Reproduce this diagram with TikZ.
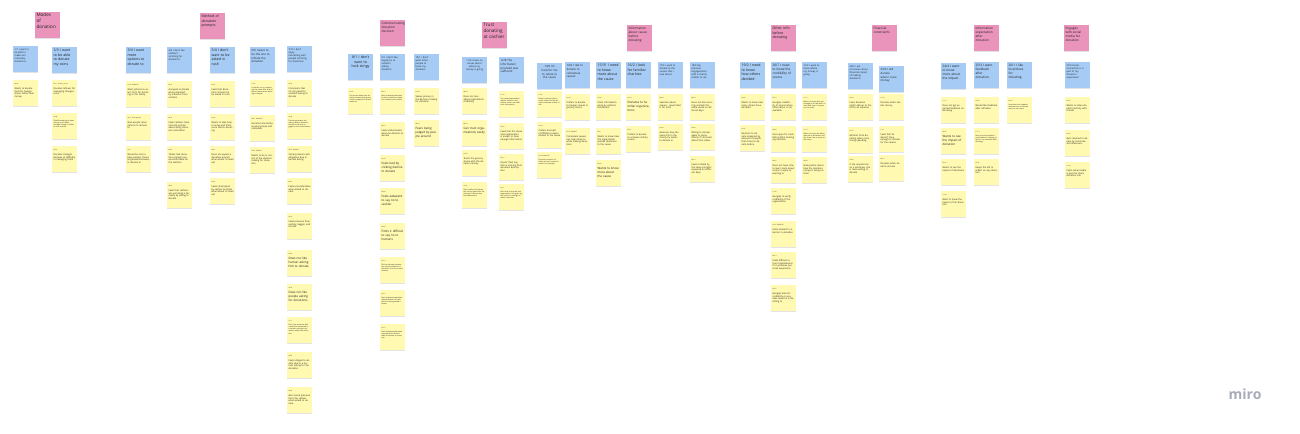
\documentclass[tikz,border=0pt]{standalone}
\usepackage{fontspec}
\setmainfont{Open Sans}
\usepackage{tikz}
\usetikzlibrary{positioning}
\usetikzlibrary{shadows}
\definecolor{stickypink}{HTML}{EA94BB}
\definecolor{stickyblue}{HTML}{A6CCF5}
\definecolor{stickyyellow}{HTML}{FFF9B1}
\definecolor{stickyink}{HTML}{1E1E1E}
\definecolor{logogrey}{HTML}{A7ACB8}
\newcommand{\stamp}[1]{{\fontsize{4.2}{5}\selectfont #1}\\[1.6mm]}
\tikzset{
    sticky/.style={
           rectangle,
           text=stickyink,
           text width=22mm,
           inner xsep=1.5mm, inner ysep=2mm,
           text height=2.6mm, text depth=19.4mm,
           align=left,
           drop shadow={shadow xshift=0mm, shadow yshift=-1mm, opacity=0.22},
           },
    theme/.style={sticky, fill=stickypink, font=\fontsize{9}{11.5}\selectfont},
    need/.style={sticky, fill=stickyblue, font=\fontsize{8}{10.5}\selectfont},
    finding/.style={sticky, fill=stickyyellow, font=\fontsize{6.5}{8.2}\selectfont},
    hugetext/.style={font=\fontsize{13}{17}\selectfont},
    bigtext/.style={font=\fontsize{10}{13}\selectfont},
    medtext/.style={font=\fontsize{9}{11.5}\selectfont},
    smalltext/.style={font=\fontsize{6.8}{8.6}\selectfont},
    tinytext/.style={font=\fontsize{5}{6.2}\selectfont},
    loudtext/.style={font=\fontsize{8.5}{10.5}\selectfont},
}
\begin{document}
\begin{tikzpicture}[x=1mm, y=-1mm, node distance=33mm, on grid]
\path[use as bounding box, fill=white] (0,0) rectangle (1300,433);

% modes of donation
\node[theme, hugetext, anchor=north west] (modes) at (35,12) {Modes\\of\\donation};
\node[need, smalltext, anchor=north west] (nonmoney) at (13,46) {1/1 I want to\\be able to\\make non\\monetary\\donations.};
\node[finding, below=34mm of nonmoney] (nonmoney1) {\stamp{06:18}Wants to donate food for hunger drives rather than money};
\node[need, bigtext, anchor=north west] (coins) at (52,47) {3/3 I want\\to be able\\to donate\\my coins};
\node[finding, below=of coins] (coins1) {\stamp{07:11 Grocery store}Donates leftover for managing changes - coins};
\node[finding, tinytext, below=of coins1] (coins2) {\stamp{14:40}Good/hesitating to leave change in a basket through change in effect of coin amount};
\node[finding, below=of coins2] (coins3) {\stamp{07:10}Donates changes because of difficulty in managing them};

% method of donation prompts
\node[theme, bigtext, anchor=north west] (prompts) at (200,13) {Method of\\donation\\prompts};
\node[need, bigtext, anchor=north west] (options) at (126,47) {3/4 I want\\more\\options to\\donate to};
\node[finding, below=34mm of options] (options1) {\stamp{01:37 INSIGHTS}Want options to select from for donating to the family};
\node[finding, below=of options1] (options2) {\stamp{02:17 Food groups}Give people more options to donate to};
\node[finding, below=32mm of options2] (options3) {\stamp{01:11}Would be nice to have various choice (organisation/cause) to donate to};
\node[need, smalltext, anchor=north west] (soliciting) at (167,47) {4/4 I don't like\\cashiers'\\soliciting for\\donations.};
\node[finding, below=34mm of soliciting] (soliciting1) {\stamp{05:10}Annoyed to donate when impacted by influence from cashiers};
\node[finding, below=of soliciting1] (soliciting2) {\stamp{05:41}Feels cashiers have minimal opinion about doing donation solicitation};
\node[finding, below=32mm of soliciting2] (soliciting3) {\stamp{06:27}Thinks that donation prompts are uncomfortable for the cashiers};
\node[finding, below=36mm of soliciting3] (soliciting4) {\stamp{09:18}Feels that cashiers are just doing a formality by asking to donate};
\node[need, bigtext, anchor=north west] (rush) at (210,47) {5/4 I don't\\want to be\\asked in\\rush};
\node[finding, below=34mm of rush] (rush1) {\stamp{13:42}Feels that donations should not be asked in rush};
\node[finding, below=of rush1] (rush2) {\stamp{12:04}Wants to take time to know and think more before donating};
\node[finding, below=32mm of rush2] (rush3) {\stamp{09:27}Does not expect a donation prompt when about to head out};
\node[finding, below=32mm of rush3] (rush4) {\stamp{07:05}Feels interrupted by cashier prompts when about to head out};
\node[need, anchor=north west] (initiate) at (250,47) {6/0 I want to\\be the one to\\initiate the\\donation};
\node[finding, tinytext, below=of initiate] (initiate1) {\stamp{11:18}A cashier can try explaining the cause first and let them choose when wanting to donate};
\node[finding, below=35mm of initiate1] (initiate2) {\stamp{09:15 INSIGHTS}Donation should be as anonymous and individual};
\node[finding, below=32mm of initiate2] (initiate3) {\stamp{07:28 INSIGHT}Wants to be in control of the decision making for donation};
\node[need, smalltext, anchor=north west] (interacting) at (287,46) {7/10 I don't\\enjoy\\interacting with\\people soliciting\\for donations};
\node[finding, below=34mm of interacting] (interacting1) {\stamp{01:23}Comments that it's not good for cashiers asking to donate};
\node[finding, tinytext, below=of interacting1] (interacting2) {\stamp{12:08}Cashier generates the most pressure because he/she is the one engaged in the conversation};
\node[finding, below=of interacting2] (interacting3) {\stamp{07:07 INSIGHT}Social pressure and obligation due to human asking};
\node[finding, below=32mm of interacting3] (interacting4) {\stamp{09:51}Feels uncomfortable when asked to donate};
\node[finding, below=35mm of interacting4] (interacting5) {\stamp{14:07}Feels pressure from cashier, beggar, and himself};
\node[finding, loudtext, below=37mm of interacting5] (interacting6) {\stamp{01:22}Does not like human asking him to donate};
\node[finding, loudtext, below=34mm of interacting6] (interacting7) {\stamp{01:05}Does not like people asking for donations};
\node[finding, tinytext, below=of interacting7] (interacting8) {\stamp{11:17}Feels less pressure with a machine compared to a human asking at the cashier about the donation};
\node[finding, below=35mm of interacting8] (interacting9) {\stamp{06:03}Feels obliged to donate due to a human asking for the donation};
\node[finding, below=35mm of interacting9] (interacting10) {\stamp{06:03}Gets social pressure from the cashier when asked to donate};

% communicating donation decision
\node[theme, anchor=north west] (decision) at (380,20) {Communicating\\donation\\decision};
\node[need, bigtext, align=center, anchor=north west] (stingy) at (348,54) {8/1 I don't\\want to\\look stingy};
\node[finding, tinytext, below=34mm of stingy] (stingy1) {\stamp{01:06}Concerned about the donation amount being very small compared to others' amounts};
\node[need, smalltext, anchor=north west] (sayingno) at (380,54) {9/1 I don't like\\saying no to\\cashiers\\asking\\donation};
\node[finding, tinytext, below=34mm of sayingno] (sayingno1) {\stamp{08:15}Feels embarrassed when he has to decline a donation asked by the cashier};
\node[finding, below=34mm of sayingno1] (sayingno2) {\stamp{03:18}Feels embarrassed when he declines to donate};
\node[finding, loudtext, below=of sayingno2] (sayingno3) {\stamp{13:05}Feels bad by clicking decline to donate};
\node[finding, loudtext, below=of sayingno3] (sayingno4) {\stamp{08:03}Feels awkward to say no to cashier};
\node[finding, loudtext, below=35mm of sayingno4] (sayingno5) {\stamp{09:02}Finds it difficult to say no to humans};
\node[finding, tinytext, below=34mm of sayingno5] (sayingno6) {\stamp{13:10}Did not donate because the cashier asked for a donation in front of other humans};
\node[finding, tinytext, below=of sayingno6] (sayingno7) {\stamp{14:16}Feels embarrassed when asked because he feels that he's being asked a favour};
\node[finding, tinytext, below=34mm of sayingno7] (sayingno8) {\stamp{10:16}Feels embarrassed when saying that he doesn't want to donate to someone};
\node[need, smalltext, anchor=north west] (privacy) at (414,54) {10/1 I don't\\want other\\people to\\know my\\donation};
\node[finding, below=34mm of privacy] (privacy1) {\stamp{01:48}Values privacy in the decision making for donation};
\node[finding, loudtext, below=32mm of privacy1] (privacy2) {\stamp{09:03}Fears being judged by people around};

% trust donating at cashier
\node[theme, hugetext, anchor=north west] (trust) at (482,22) {Trust\\donating\\at cashier};
\node[need, smalltext, align=center, anchor=north west] (noissues) at (462,57) {11/8 I have no\\issues about\\where my\\money is going};
\node[finding, below=31mm of noissues] (noissues1) {\stamp{08:04}Does not care about organization credibility};
\node[finding, loudtext, below=32mm of noissues1] (noissues2) {\stamp{09:54}Can trust organizations easily};
\node[finding, below=30mm of noissues2] (noissues3) {\stamp{16:03}Trusts the grocery stores with the donation money};
\node[finding, tinytext, below=32mm of noissues3] (noissues4) {\stamp{12:05}Don't really mind where the money goes after donating to a cause they have donated to};
\node[need, anchor=north west] (sufficient) at (499,57) {12/8 The\\information\\provided was\\sufficient};
\node[finding, tinytext, below=34mm of sufficient] (sufficient1) {\stamp{11:02}The cause/organization details shown on the cashier screen are sufficient information};
\node[finding, below=32mm of sufficient1] (sufficient2) {\stamp{14:02}Feels that the cause and organization is known to have enough information};
\node[finding, below=31mm of sufficient2] (sufficient3) {\stamp{05:12}Doesn't feel any info is missing from donation description};
\node[finding, tinytext, below=30mm of sufficient3] (sufficient4) {\stamp{01:11}Feels that the cause and organization info given by the cashier is enough to make a decision};
\node[need, align=center, anchor=north west] (relate) at (537,63) {13/0 It's\\hard for me\\to relate to\\the cause};
\node[finding, tinytext, below=28mm of relate] (relate1) {\stamp{11:05}Doesn't connect with a cause related to the donation because of lack of info};
\node[finding, below=31mm of relate1] (relate2) {\stamp{01:03}Prefers prompts of different causes related to the cause};
\node[finding, tinytext, below=30mm of relate2] (relate3) {\stamp{10:05 INSIGHTS}Physical prospects of cause are not communicated to the people};

% information about cause before donating
\node[theme, anchor=north west] (causeinfo) at (627,25) {Information\\about cause\\before\\donating};
\node[need, anchor=north west] (contextual) at (565,62) {14/2 I like to\\donate to\\contextual\\causes};
\node[finding, below=32mm of contextual] (contextual1) {\stamp{01:03}Prefers to donate to hunger causes in grocery stores};
\node[finding, below=34mm of contextual1] (contextual2) {\stamp{01:05 INSIGHT}Contextual causes can help relate to while making donations};
\node[need, bigtext, anchor=north west] (knowmore) at (596,62) {15/31 I need\\to know\\more about\\the cause};
\node[finding, below=32mm of knowmore] (knowmore1) {\stamp{01:09}Finds information given by cashiers insufficient};
\node[finding, below=34mm of knowmore1] (knowmore2) {\stamp{04:11}Wants to know how the organization spends donations to the cause};
\node[finding, loudtext, below=32mm of knowmore2] (knowmore3) {\stamp{00:03}Wants to know more about the cause};
\node[need, bigtext, anchor=north west] (familiar) at (626,62) {16/2 I look\\for familiar\\charities};
\node[finding, loudtext, below=32mm of familiar] (familiar1) {\stamp{13:04}Donates to familiar organizations};
\node[finding, below=32mm of familiar1] (familiar2) {\stamp{07:21}Prefers to donate to a known charity source};
\node[need, smalltext, anchor=north west] (careabout) at (658,62) {17/3 I want to\\donate to the\\causes that I\\care about.};
\node[finding, below=32mm of careabout] (careabout1) {\stamp{06:03}Selective about causes - usual habit is for food};
\node[finding, below=30mm of careabout1] (careabout2) {\stamp{01:04}Assesses how the cause fits in the charity he wants to donate to};
\node[need, smalltext, anchor=north west] (previous) at (690,62) {18/3 My\\previous\\engagements\\with a charity\\matter to me};
\node[finding, below=32mm of previous] (previous1) {\stamp{04:23}Does not like recurring prompts for same cause on different days};
\node[finding, below=30mm of previous1] (previous2) {\stamp{09:46}Willing to donate again to same charity if informed about final status};
\node[finding, below=32mm of previous2] (previous3) {\stamp{04:13}Feels irritated by the same prompts repeated on different days};
\node[need, bigtext, anchor=north west] (others) at (740,62) {19/2 I need\\to know\\how others\\decided};
\node[finding, below=32mm of others] (others1) {\stamp{13:06}Wants to know how many others have donated};
\node[finding, below=31mm of others1] (others2) {\stamp{01:02}Decision to donate impacted by amount of people that chose to donate before};

% other info before donating
\node[theme, bigtext, anchor=north west] (otherinfo) at (771,25) {Other info\\before\\donating};
\node[need, medtext, anchor=north west] (credibility) at (771,62) {20/7 I need\\to know the\\credibility of\\source};
\node[finding, below=32mm of credibility] (credibility1) {\stamp{07:12}Googles credibility of source when information is not available};
\node[finding, below=32mm of credibility1] (credibility2) {\stamp{03:05}Uses apps for credibility before making any decision};
\node[finding, below=31mm of credibility2] (credibility3) {\stamp{04:22}Does not have time to learn more about source in spite of wanting to};
\node[finding, below=31mm of credibility3] (credibility4) {\stamp{11:08}Googles to verify credibility of the organization};
\node[finding, below=of credibility4] (credibility5) {\stamp{13:07 INSIGHTS}Extra research is a barrier in donation};
\node[finding, below=31mm of credibility5] (credibility6) {\stamp{04:13}Finds difficult to trust organizations if no previous personal experience};
\node[finding, below=of credibility6] (credibility7) {\stamp{05:27}Googles data for credibility on any new cause he is donating to};
\node[need, smalltext, anchor=north west] (wheremoney) at (802,62) {21/3 I want to\\know where\\my money is\\going.};
\node[finding, tinytext, below=32mm of wheremoney] (wheremoney1) {\stamp{11:16}Wants to know what percentage of the donation is used and how it is spent on the cause};
\node[finding, tinytext, below=32mm of wheremoney1] (wheremoney2) {\stamp{11:14}Wants to know the whole amount of donations and the share that is spent on the cause};
\node[finding, below=31mm of wheremoney2] (wheremoney3) {\stamp{09:08}Had qualms about how the donation money is being utilized};
\node[need, smalltext, anchor=north west] (conscious) at (848,63) {22/3 I am\\conscious about\\financial impact\\of making\\donations};
\node[finding, below=31mm of conscious] (conscious1) {\stamp{01:34}Feels donation might add up to the bill as an expense};
\node[finding, below=of conscious1] (conscious2) {\stamp{01:20}Refrains from donating when monitoring spending};
\node[finding, below=29mm of conscious2] (conscious3) {\stamp{14:08}If she spends less on a purchase, she is more willing to donate};

% financial constraints
\node[theme, anchor=north west] (constraints) at (872,25) {Financial\\constraints};
\node[need, anchor=north west] (havemoney) at (879,66) {23/3 I will\\donate\\when I have\\money};
\node[finding, below=28mm of havemoney] (havemoney1) {\stamp{11:02}Donates when she has money};
\node[finding, below=32mm of havemoney1] (havemoney2) {\stamp{1:14}Feels that he doesn't have enough to donate for the causes};
\node[finding, below=29mm of havemoney2] (havemoney3) {\stamp{03:13}Donates when he earns income};
\node[need, medtext, anchor=north west] (impact) at (941,63) {24/4 I want\\to know\\more about\\the impact};
\node[finding, below=34mm of impact] (impact1) {\stamp{11:16}Does not get expected feedback on donating};
\node[finding, loudtext, below=31mm of impact1] (impact2) {\stamp{05:05}Wants to see the impact of donation};
\node[finding, below=31mm of impact2] (impact3) {\stamp{13:09}Wants to see the impact of donations};
\node[finding, below=32mm of impact3] (impact4) {\stamp{11:09}Want to know the impact of her donation};

% information expectation after donation
\node[theme, anchor=north west] (expectation) at (974,25) {Information\\expectation\\after\\donation};
\node[need, medtext, anchor=north west] (feedback) at (974,62) {25/3 I want\\feedback\\after\\donation.};
\node[finding, below=35mm of feedback] (feedback1) {\stamp{14:05}Would like feedback after donation};
\node[finding, tinytext, below=31mm of feedback1] (feedback2) {\stamp{11:14}Feels that the donation confirmation is lacking as there is no feedback after donating};
\node[finding, below=31mm of feedback2] (feedback3) {\stamp{16:05}Keeps the bill to reflect on any donation};
\node[need, medtext, anchor=north west] (incentives) at (1007,62) {26/1 I like\\incentives\\for\\donating};
\node[finding, tinytext, below=35mm of incentives] (incentives1) {\stamp{09:18}Incentives and rewards motivate him to donate more to the cause};

% engages with social media
\node[theme, anchor=north west] (social) at (1064,25) {Engages\\with social\\media for\\donation};
\node[need, smalltext, anchor=north west] (connection) at (1065,62) {27/0 Social\\connection is a\\part of my\\donation\\experience};
\node[finding, below=35mm of connection] (connection1) {\stamp{13:07}Wants to share donation activity with friends};
\node[finding, below=33mm of connection1] (connection2) {\stamp{13:02}Gets inspired to donate by social media influencers};
\node[finding, below=32mm of connection2] (connection3) {\stamp{11:02}Feels social media is good to share donation info};

\node[text=logogrey, font=\fontsize{40}{40}\selectfont\bfseries] (logo) at (1245,394) {miro};
\end{tikzpicture}
\end{document}
